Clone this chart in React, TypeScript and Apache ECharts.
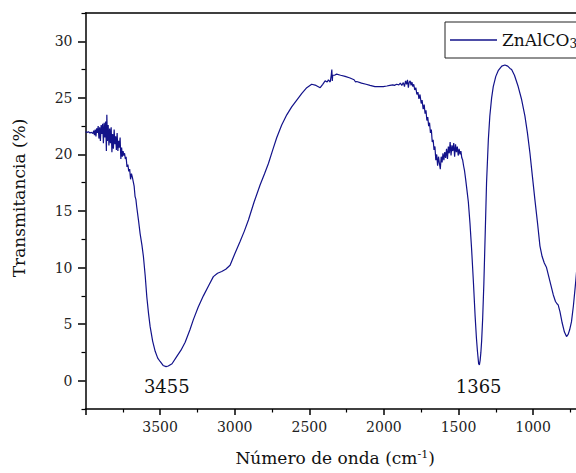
import React, { useEffect, useRef } from "react";
import * as echarts from "echarts";

// Wavenumber (cm-1) and transmittance (%)
const waveNumbers: number[] = [
  4000, 3990, 3980, 3970, 3960, 3950, 3945, 3940, 3935, 3930, 3925, 3920, 3915, 3910, 3905, 3900,
  3895, 3890, 3885, 3880, 3875, 3870, 3865, 3860, 3857, 3853, 3848, 3843, 3838, 3833, 3828, 3823,
  3818, 3813, 3808, 3803, 3798, 3793, 3788, 3783, 3778, 3773, 3768, 3763, 3758, 3753, 3748, 3743,
  3738, 3733, 3728, 3722, 3716, 3710, 3704, 3698, 3692, 3686, 3680, 3674, 3668, 3662, 3657, 3645,
  3634, 3622, 3612, 3600, 3589, 3578, 3567, 3550, 3533, 3516, 3500, 3480, 3460, 3445, 3420, 3390,
  3360, 3332, 3300, 3277, 3245, 3210, 3175, 3143, 3115, 3087, 3060, 3031, 3000, 2964, 2936, 2908,
  2870, 2830, 2800, 2774, 2745, 2718, 2685, 2651, 2618, 2584, 2550, 2517, 2484, 2455, 2427, 2410,
  2394, 2380, 2372, 2360, 2353, 2349, 2346, 2343, 2330, 2317, 2290, 2260, 2227, 2200, 2190, 2182,
  2150, 2120, 2093, 2060, 2026, 2004, 1980, 1960, 1940, 1930, 1914, 1900, 1890, 1880, 1870, 1862,
  1855, 1848, 1842, 1836, 1830, 1824, 1818, 1812, 1806, 1800, 1793, 1786, 1779, 1772, 1765, 1758,
  1750, 1744, 1737, 1730, 1724, 1718, 1712, 1706, 1700, 1694, 1688, 1682, 1676, 1670, 1664, 1658,
  1652, 1646, 1640, 1634, 1628, 1622, 1616, 1610, 1604, 1598, 1592, 1586, 1580, 1574, 1568, 1562,
  1556, 1550, 1544, 1538, 1532, 1526, 1520, 1514, 1508, 1502, 1496, 1490, 1484, 1478, 1472, 1466,
  1460, 1452, 1443, 1434, 1423, 1412, 1400, 1389, 1380, 1373, 1365, 1360, 1355, 1350, 1345, 1338,
  1330, 1321, 1312, 1300, 1290, 1278, 1267, 1250, 1234, 1210, 1189, 1170, 1155, 1144, 1125, 1100,
  1078, 1055, 1038, 1021, 1005, 988, 970, 954, 940, 925, 910, 895, 880, 865, 850, 840,
  832, 820, 805, 790, 776, 765, 755, 743, 730, 714, 700, 685, 670,
];

const transmittance: number[] = [
  22.0, 21.95, 22.0, 21.9, 21.95, 21.85, 22.1, 21.7, 22.2, 21.6, 22.3, 21.9, 22.5, 21.4, 22.4, 21.2,
  22.6, 21.8, 22.7, 21.0, 22.8, 21.5, 22.9, 20.3, 23.5, 21.2, 22.6, 20.8, 22.3, 21.0, 22.4, 20.2,
  21.8, 20.5, 22.2, 20.9, 21.6, 20.4, 21.9, 20.3, 21.2, 20.6, 21.5, 19.6, 20.6, 19.8, 20.3, 19.9,
  20.1, 19.6, 19.8, 18.9, 19.1, 18.5, 18.7, 17.8, 18.3, 18.0, 17.6, 17.2, 16.3, 16.0, 15.4, 14.2,
  13.0, 12.0, 11.0, 9.3, 7.4, 6.0, 4.8, 3.5, 2.6, 2.0, 1.7, 1.35, 1.25, 1.3, 1.5, 2.1,
  2.7, 3.4, 4.5, 5.4, 6.5, 7.5, 8.4, 9.2, 9.5, 9.65, 9.85, 10.2, 11.2, 12.3, 13.2, 14.2,
  15.8, 17.3, 18.3, 19.2, 20.4, 21.5, 22.6, 23.5, 24.2, 24.8, 25.4, 25.9, 26.2, 26.1, 25.9, 26.2,
  26.5, 26.4, 26.6, 26.4, 27.0, 27.5, 26.5, 27.0, 27.0, 27.1, 27.0, 26.9, 26.75, 26.6, 26.4, 26.45,
  26.3, 26.2, 26.1, 26.0, 26.0, 26.0, 26.05, 26.1, 26.15, 26.1, 26.2, 26.15, 26.3, 26.1, 26.35, 26.0,
  26.5, 26.2, 26.6, 25.9, 26.4, 26.5, 26.1, 26.4, 26.0, 26.2, 25.7, 25.9, 25.3, 25.5, 24.9, 25.3,
  24.5, 24.8, 24.0, 24.4, 23.6, 23.9, 23.0, 23.3, 22.5, 22.8, 21.9, 22.2, 21.1, 21.3, 20.4, 20.7,
  19.5, 20.0, 19.0, 19.8, 19.2, 18.7, 19.8, 19.3, 20.1, 19.5, 20.2, 19.7, 20.5, 19.6, 20.7, 20.1,
  21.1, 19.9, 20.8, 20.3, 21.0, 19.8, 20.9, 20.2, 20.7, 19.9, 20.5, 20.0, 20.3, 19.7, 19.5, 19.0,
  18.6, 17.8, 16.8, 15.8, 13.9, 11.6, 8.7, 5.8, 3.8, 2.6, 1.5, 1.4, 1.8, 2.5, 3.5, 5.5,
  8.6, 13.0, 17.5, 21.3, 23.4, 25.0, 26.0, 26.9, 27.4, 27.8, 27.9, 27.8, 27.6, 27.5, 27.0, 26.0,
  24.9, 23.4, 21.9, 20.1, 18.1, 16.0, 13.9, 11.9, 11.0, 10.4, 10.0, 9.2, 8.4, 7.6, 7.0, 6.8,
  6.7, 6.1, 5.1, 4.3, 3.9, 4.1, 4.5, 5.2, 6.6, 8.8, 11.0, 13.5, 15.5,
];

const seriesName = "ZnAlCO3";
const peakLabels: number[] = [3455, 1365];
const xLabelValues: number[] = [1000, 1500, 2000, 2500, 3000, 3500];
const yLabelValues: number[] = [0, 5, 10, 15, 20, 25, 30];

const FONT = "DejaVu Serif";
const LINE_COLOR = "#12128a";

export default function App() {
  const ref = useRef<HTMLDivElement>(null);

  useEffect(() => {
    if (!ref.current) return;
    const chart = echarts.init(ref.current, undefined, { renderer: "svg" });
    const data = waveNumbers.map((w, i) => [w, transmittance[i]]);
    const axisLine = { show: true, onZero: false, lineStyle: { color: "#000", width: 1.5 } };

    chart.setOption({
      animation: false,
      backgroundColor: "#fff",
      textStyle: { fontFamily: FONT },
      grid: { left: 85.5, top: 13, bottom: 64, right: 32.3, containLabel: false },
      legend: {
        show: true,
        left: 445,
        top: 22,
        orient: "horizontal",
        padding: [8, 12, 8, 5],
        borderColor: "#222",
        borderWidth: 1,
        itemWidth: 47,
        itemHeight: 1.4,
        itemGap: 5,
        data: [{ name: seriesName, icon: "rect", itemStyle: { color: LINE_COLOR } }],
        formatter: () => "ZnAlCO{s|3}",
        textStyle: {
          fontFamily: FONT,
          fontSize: 17,
          lineHeight: 20,
          color: "#111",
          rich: {
            s: { fontSize: 12, fontFamily: FONT, lineHeight: 8, verticalAlign: "bottom", color: "#111" },
          },
        },
      },
      xAxis: [
        {
          type: "value",
          inverse: true,
          min: 500,
          max: 4000,
          interval: 500,
          axisLine,
          splitLine: { show: false },
          axisTick: { show: true, length: 6, lineStyle: { color: "#000", width: 1.5 } },
          minorTick: { show: true, splitNumber: 2, length: 3.5, lineStyle: { color: "#000", width: 1.2 } },
          axisLabel: {
            show: true,
            customValues: xLabelValues,
            formatter: (v: number) => String(v),
            margin: 11,
            fontSize: 14,
            fontFamily: FONT,
            color: "#222",
          },
          name: "Número de onda (cm{sup|-1})",
          nameLocation: "middle",
          nameGap: 40,
          nameTextStyle: {
            fontFamily: FONT,
            fontSize: 17,
            color: "#111",
            padding: [0, 23, 0, 0],
            rich: {
              sup: { fontSize: 11, fontFamily: FONT, lineHeight: 8, verticalAlign: "top", color: "#111" },
            },
          },
        },
        {
          type: "value",
          position: "top",
          inverse: true,
          min: 500,
          max: 4000,
          axisLine,
          axisTick: { show: false },
          axisLabel: { show: false },
          splitLine: { show: false },
        },
      ],
      yAxis: [
        {
          type: "value",
          min: -2.5,
          max: 32.5,
          interval: 5,
          axisLine,
          splitLine: { show: false },
          axisTick: { show: true, length: 4, lineStyle: { color: "#000", width: 1.2 } },
          minorTick: { show: true, splitNumber: 2, length: 7.5, lineStyle: { color: "#000", width: 1.5 } },
          axisLabel: {
            show: true,
            customValues: yLabelValues,
            formatter: (v: number) => String(v),
            margin: 13,
            fontSize: 14,
            fontFamily: FONT,
            color: "#222",
          },
          name: "Transmitancia (%)",
          nameLocation: "middle",
          nameGap: 58,
          nameRotate: 90,
          nameTextStyle: { fontFamily: FONT, fontSize: 17, color: "#111", padding: [0, 0, 0, 26] },
        },
        {
          type: "value",
          position: "right",
          min: -2.5,
          max: 32.5,
          axisLine,
          axisTick: { show: false },
          axisLabel: { show: false },
          splitLine: { show: false },
        },
      ],
      series: [
        {
          name: seriesName,
          type: "line",
          data,
          symbol: "none",
          showSymbol: false,
          lineStyle: { color: LINE_COLOR, width: 1.2 },
          itemStyle: { color: LINE_COLOR },
          markPoint: {
            symbol: "rect",
            symbolSize: 1,
            itemStyle: { color: "rgba(0,0,0,0)" },
            label: {
              show: true,
              position: "inside",
              formatter: "{b}",
              fontFamily: FONT,
              fontSize: 18,
              color: "#111",
            },
            data: peakLabels.map((p) => ({ name: String(p), coord: [p, -0.5] })),
          },
        },
      ],
    });

    return () => chart.dispose();
  }, []);

  return (
    <div style={{ position: "fixed", left: 0, top: 0, width: 576, height: 473, overflow: "hidden", background: "#fff" }}>
      <div ref={ref} style={{ width: 640, height: 473 }} />
    </div>
  );
}
